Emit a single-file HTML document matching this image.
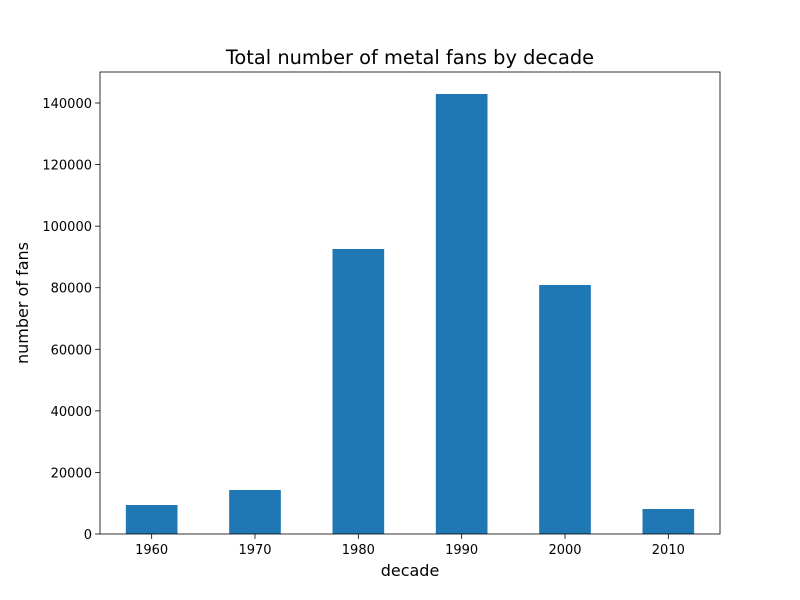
<!DOCTYPE html>
<html><head><meta charset="utf-8"><style>
body{margin:0;background:#fff;}
svg{display:block;font-family:"DejaVu Sans","Liberation Sans",sans-serif;}
</style></head><body>
<svg id="chart" width="800" height="600"></svg>
<script>
const categories=["1960","1970","1980","1990","2000","2010"];
const fans=[9420,14290,92580,142930,80880,8120];
const yTicks=[0,20000,40000,60000,80000,100000,120000,140000];
const NS="http://www.w3.org/2000/svg";
const svg=document.getElementById('chart');
const L=100,R=720,T=72,B=534,yMax=150070;
const xs=i=>L+(i+0.5)*(R-L)/categories.length;
const ys=v=>B-v/yMax*(B-T);
const bw=(R-L)/categories.length*0.5;
function mk(tag,attrs,txt){const e=document.createElementNS(NS,tag);for(const k in attrs)e.setAttribute(k,attrs[k]);if(txt!==undefined)e.textContent=txt;svg.appendChild(e);return e;}
categories.forEach((c,i)=>{
 const r=mk('rect',{x:xs(i)-bw/2,y:ys(fans[i]),width:bw,height:B-ys(fans[i]),fill:'#1f77b4'});
 
 
 const t=mk('line',{x1:xs(i),x2:xs(i),y1:B,y2:B+4.9,stroke:'#000','stroke-width':0.8});
 
 
 const l=mk('text',{x:xs(i),y:B+20,'text-anchor':'middle','font-size':'13px'},c);
 
 
});
yTicks.forEach(v=>{
 const t=mk('line',{x1:L-4.9,x2:L,y1:ys(v),y2:ys(v),stroke:'#000','stroke-width':0.8});
 
 
 const l=mk('text',{x:L-8,y:ys(v)+5,'text-anchor':'end','font-size':'13px'},String(v));
 
 
});
const f=mk('rect',{x:L,y:T,width:R-L,height:B-T,fill:'none',stroke:'#000','stroke-width':0.8});


const ti=mk('text',{x:410,y:64,'text-anchor':'middle','font-size':'19.4px'},'Total number of metal fans by decade');


const xt=mk('text',{x:410,y:576,'text-anchor':'middle','font-size':'16px'},'decade');


const yt=mk('text',{x:28,y:303,'text-anchor':'middle','font-size':'16px',transform:'rotate(-90 28 303)'},'number of fans');


</script>
</body></html>
